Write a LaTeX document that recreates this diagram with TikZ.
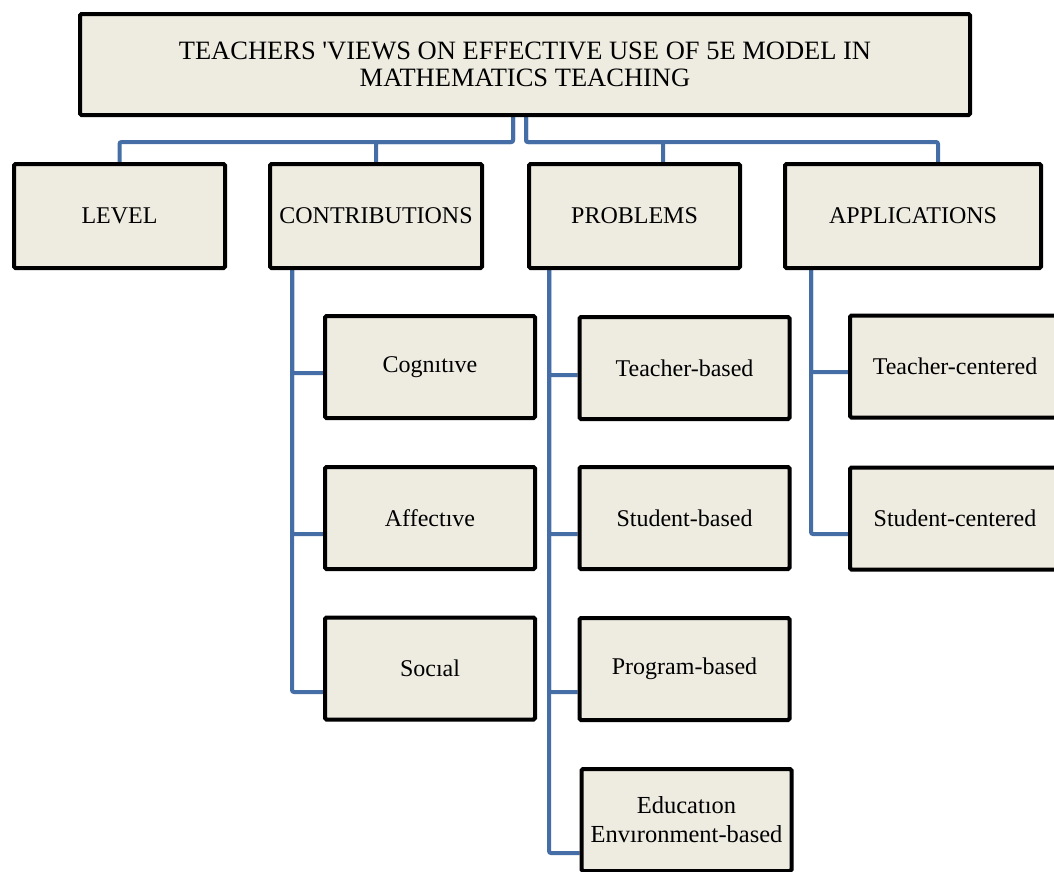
\documentclass[tikz,border=0pt]{standalone}
\usepackage{fontspec}
\setmainfont{Liberation Serif}[Ligatures=TeXOff]
\usetikzlibrary{positioning, shadows, backgrounds}
\definecolor{boxfill}{HTML}{EEECE1}
\definecolor{linkblue}{RGB}{68,110,165}
\tikzset{
  box/.style = {draw=black, line width=4pt, fill=boxfill, rounded corners=1.5pt,
    inner sep=2pt, minimum width=210pt, minimum height=102pt, align=center,
    font=\fontsize{24}{28}\selectfont,
    drop shadow={shadow xshift=1.5pt, shadow yshift=-1.5pt, opacity=.35, fill=gray}},
  link/.style = {draw=linkblue, line width=4pt, rounded corners=2pt}
}

\begin{document}
\begin{tikzpicture}[x=1pt, y=-1pt]
\useasboundingbox (0,0) rectangle (1054,871);
\node[box, minimum width=890pt, minimum height=101pt, font=\fontsize{26.5}{27}\selectfont] (top) at (525,64.5) {TEACHERS 'VIEWS ON EFFECTIVE USE OF 5E MODEL IN\\MATHEMATICS TEACHING};
\node[box, minimum width=211pt, minimum height=104pt] (level) at (119.5,216) {LEVEL};
\node[box, minimum width=212pt, minimum height=104pt] (contrib) at (376,216) {CONTRIBUTIONS};
\node[box, minimum width=211pt, minimum height=104pt] (problems) at (634.5,216) {PROBLEMS};
\node[box, minimum width=256pt, minimum height=104pt] (apps) at (913,216) {APPLICATIONS};
\node[box] (cog) at (430,367) {Cognıtıve};
\node[box] (aff) at (430,518) {Affectıve};
\node[box] (soc) at (430,668.5) {Socıal};
\node[box] (tb) at (684.5,368) {Teacher-based};
\node[box] (sb) at (684.5,518) {Student-based};
\node[box] (pb) at (684.5,669) {Program-based};
\node[box, font=\fontsize{24.5}{29}\selectfont] (eb) at (686.5,820) {Educatıon\\Envıronment-based};
\node[box] (tc) at (955,366.5) {Teacher-centered};
\node[box] (sc) at (955,518.5) {Student-centered};
\coordinate (bus) at (0,142);
\begin{scope}[on background layer]
\draw[link] ([xshift=-12pt]top.south) |- (level.north |- bus) -- (level.north);
\draw[link] ([xshift=-12pt]top.south) |- (contrib.north |- bus) -- (contrib.north);
\draw[link] ([xshift=1pt]top.south) |- ([xshift=28.5pt]problems.north |- bus) -- ([xshift=28.5pt]problems.north);
\draw[link] ([xshift=1pt]top.south) |- ([xshift=25pt]apps.north |- bus) -- ([xshift=25pt]apps.north);
\draw[link] ([xshift=-84pt]contrib.south) |- ([yshift=-6pt]cog.west);
\draw[link] ([xshift=-84pt]contrib.south) |- ([yshift=-16pt]aff.west);
\draw[link] ([xshift=-84pt]contrib.south) |- ([yshift=-23.5pt]soc.west);
\draw[link] ([xshift=-85.5pt]problems.south) |- ([yshift=-7pt]tb.west);
\draw[link] ([xshift=-85.5pt]problems.south) |- ([yshift=-16pt]sb.west);
\draw[link] ([xshift=-85.5pt]problems.south) |- ([yshift=-23pt]pb.west);
\draw[link] ([xshift=-85.5pt]problems.south) |- ([yshift=-33pt]eb.west);
\draw[link] ([xshift=-102pt]apps.south) |- ([yshift=-5.5pt]tc.west);
\draw[link] ([xshift=-102pt]apps.south) |- ([yshift=-15.5pt]sc.west);
\end{scope}
\end{tikzpicture}
\end{document}
